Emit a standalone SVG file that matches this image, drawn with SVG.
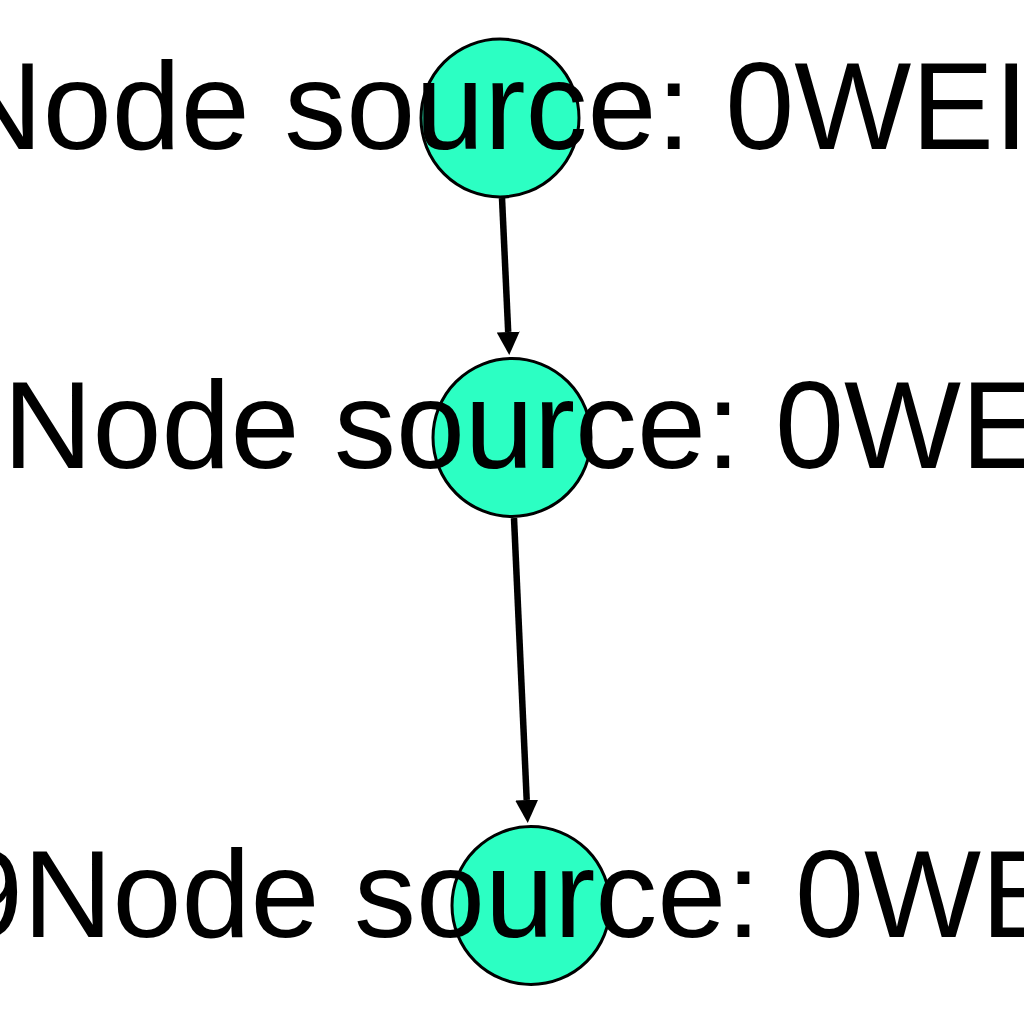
<svg xmlns="http://www.w3.org/2000/svg" width="1024" height="1024" viewBox="0 0 1024 1024">
  <style>
    .node circle { fill: #2cffc3; stroke: #000; stroke-width: 3; }
    .node text { font-family: "Liberation Sans", Arial, sans-serif; font-size: 124px; fill: #000; }
    .edge { stroke: #000; stroke-width: 6.5; fill: none; marker-end: url(#arrow); }
  </style>
  <defs>
    <marker id="arrow" viewBox="0 0 23 23" refX="0" refY="11.5" markerWidth="23" markerHeight="23" markerUnits="userSpaceOnUse" orient="auto">
      <path d="M0,0 L23,11.5 L0,23 z" fill="#000"/>
    </marker>
  </defs>
  <rect width="1024" height="1024" fill="#fff"/>
  <g id="connectors">
    <line class="edge" x1="502" y1="198" x2="508.2" y2="332"/>
    <line class="edge" x1="514" y1="518" x2="526.7" y2="800"/>
  </g>
  <g id="node1" class="node">
    <circle cx="500" cy="118" r="79"/>
    <text x="-46.7" y="149.3">Node source: 0WEI</text>
  </g>
  <g id="node2" class="node">
    <circle cx="512" cy="437.5" r="79"/>
    <text x="3" y="468.3">Node source: 0WE</text>
  </g>
  <g id="node3" class="node">
    <circle cx="531" cy="905.5" r="79"/>
    <text x="-45.9" y="936.7">9Node source: 0WE</text>
  </g>
</svg>
